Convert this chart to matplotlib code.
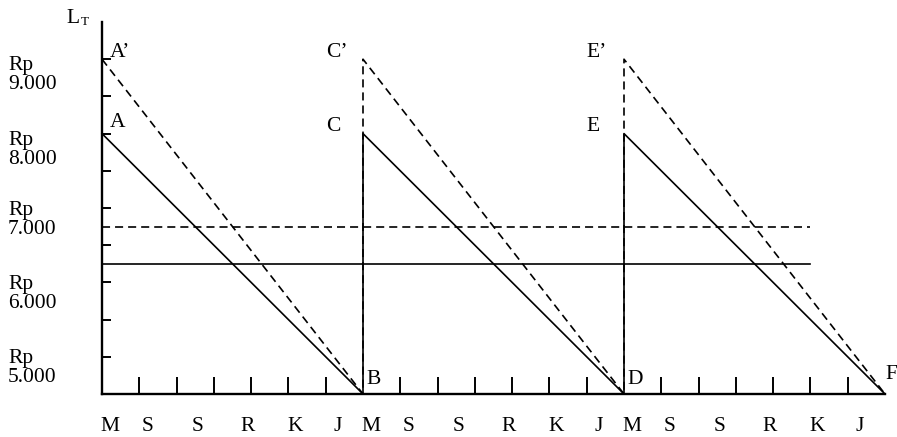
import matplotlib.pyplot as plt

plt.rcParams['font.family'] = ['Liberation Serif', 'DejaVu Serif']
plt.rcParams['lines.scale_dashes'] = False

# inventory levels (Rp)
base = 5000
avg_solid = 6750
avg_dashed = 7250
period = 7                            # ticks per cycle
n_cycles = 3
avg_end = 19

# x points of the saw tooth
x_saw = [0, 7, 7, 14, 14, 21]
y_solid = [8500, 5000, 8500, 5000, 8500, 5000]
y_dashed = [9500, 5000, 9500, 5000, 9500, 5000]

y_ticks = [5500, 6000, 6500, 7000, 7500, 8000, 8500, 9000, 9500]
y_labels = ["9.000", "8.000", "7.000", "6.000", "5.000"]
y_label_pos = [9285, 8280, 7340, 6345, 5350]

days = ["M", "S", "S", "R", "K", "J"]
day_pos = [0.22, 1.23, 2.57, 3.91, 5.17, 6.33]

fig = plt.figure(figsize=(8.97, 4.37), dpi=100)
ax = fig.add_axes([102/897, 1 - 394/437, 783/897, 372/437])
ax.set_xlim(0, 21)
ax.set_ylim(5000, 10000)

dash = (0, (5.8, 3.6))
ax.plot(x_saw, y_dashed, color='black', lw=1.2, linestyle=dash, clip_on=False)
ax.plot(x_saw, y_solid, color='black', lw=1.2, clip_on=False)
ax.plot([0, avg_end], [avg_dashed, avg_dashed], color='black', lw=1.2, linestyle=dash)
ax.plot([0, avg_end], [avg_solid, avg_solid], color='black', lw=1.2)

for s in ['top', 'right']:
    ax.spines[s].set_visible(False)
for s in ['left', 'bottom']:
    ax.spines[s].set_linewidth(1.7)

ax.set_yticks(y_ticks)
ax.set_xticks([i for i in range(1, 21) if i % period != 0])
ax.tick_params(axis='y', direction='in', length=6.5, width=1.4, labelleft=False)
ax.tick_params(axis='x', direction='in', length=12, width=1.4, labelbottom=False)

fs = 15.5
for lab, yp in zip(y_labels, y_label_pos):
    ax.text(-2.52, yp, "Rp\n" + lab, fontsize=fs, ha='left', va='center',
            linespacing=1.0, clip_on=False)

# day labels sit at the very bottom edge
for c in range(n_cycles):
    for d, p in zip(days, day_pos):
        ax.text(c * period + p, 4440, d, fontsize=fs, ha='center', va='bottom',
                clip_on=False)

# point labels
pts = [("A\u2019", 0.2, 9590), ("A", 0.2, 8650),
       ("C\u2019", 6.0, 9590), ("C", 6.0, 8590),
       ("E\u2019", 12.98, 9590), ("E", 12.98, 8590),
       ("B", 7.1, 5190), ("D", 14.1, 5190), ("F", 21.0, 5260)]
for t, xp, yp in pts:
    ax.text(xp, yp, t, fontsize=fs, ha='left', va='center', clip_on=False)

ax.text(-0.95, 9985, "L", fontsize=fs, ha='left', va='baseline', clip_on=False)
ax.text(-0.58, 9955, "T", fontsize=9.5, ha='left', va='baseline', clip_on=False)

fig.savefig("out.png", dpi=100)
